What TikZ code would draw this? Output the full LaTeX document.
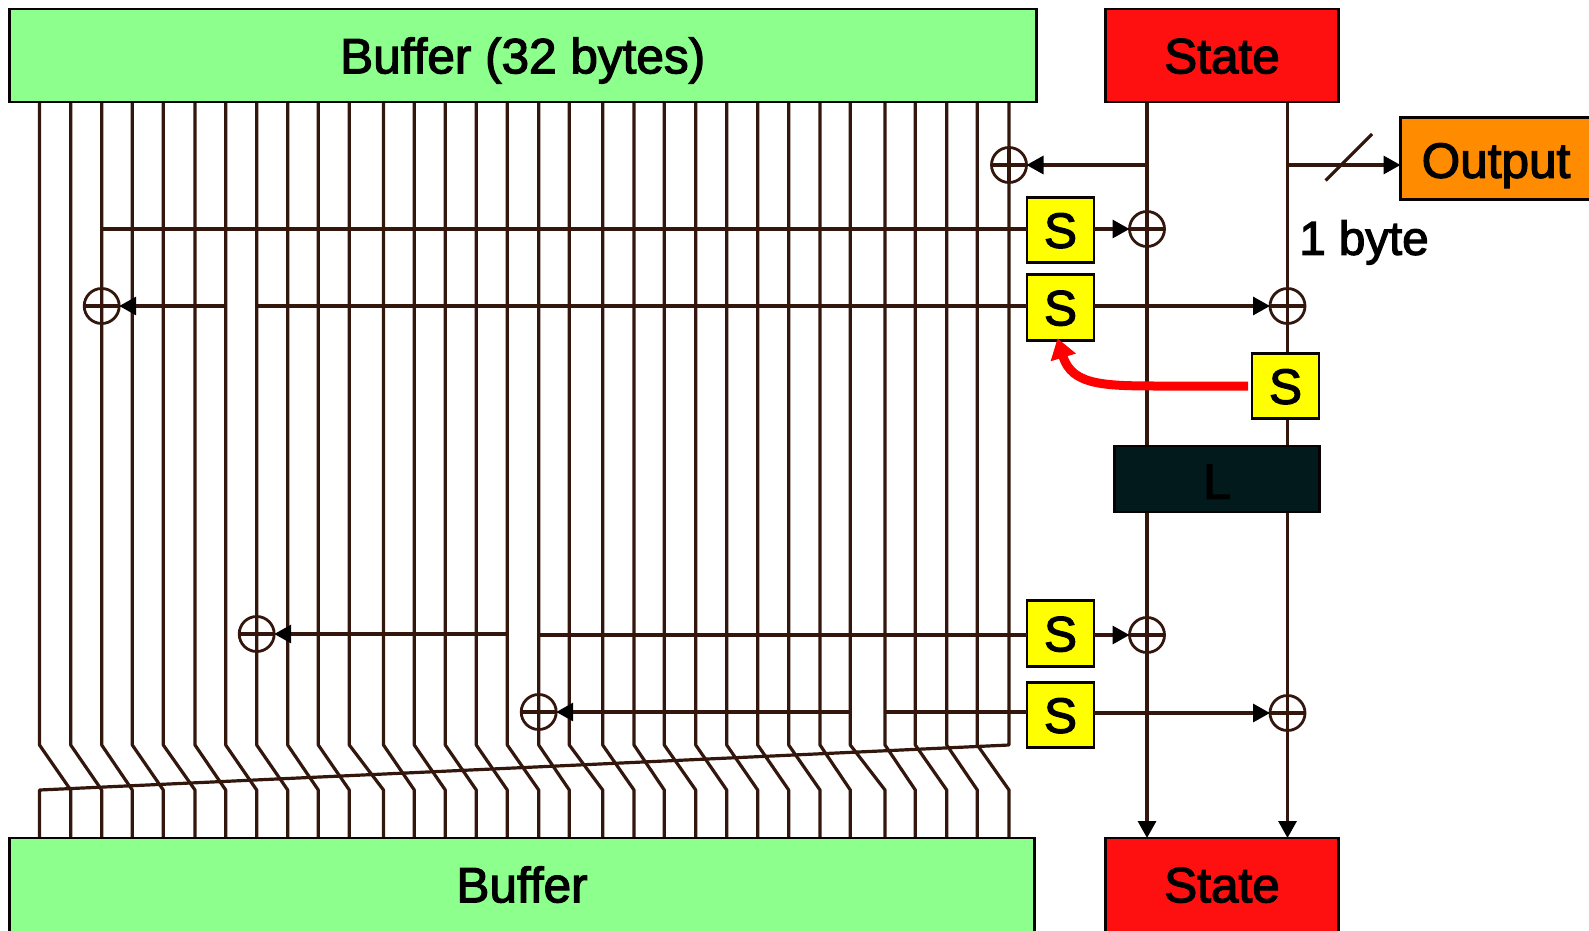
\documentclass[tikz,border=0pt]{standalone}
\usepackage{fontspec}
\usetikzlibrary{arrows.meta,calc}
\newfontfamily\labfont[FakeBold=2.5]{Liberation Sans}
\definecolor{wirec}{HTML}{33170D}
\definecolor{bufg}{HTML}{8CFF8C}
\definecolor{stater}{HTML}{FF1010}
\definecolor{sboxy}{HTML}{FFFF00}
\definecolor{outo}{HTML}{FF8C00}
\definecolor{ldark}{HTML}{021A1C}
\tikzset{
  wire/.style={draw=wirec,line width=3.2pt,line join=round},
  arrowwire/.style={wire,-{Triangle[length=17pt,width=18pt,color=black]}},
  labeltext/.style={font=\labfont\fontsize{49.5}{50}\selectfont,text=black,text height=35.5pt,text depth=0pt,inner sep=0pt,outer sep=0pt},
  block/.style={draw=black!85!wirec,line width=2.8pt,labeltext},
  sbox/.style={block,fill=sboxy,minimum width=67pt,minimum height=65.5pt},
  xorgate/.style={circle,draw=wirec,line width=2.8pt,minimum size=35pt,inner sep=0pt,outer sep=0pt,
    path picture={\draw[wire] (path picture bounding box.west) -- (path picture bounding box.east);
                  \draw[wire] (path picture bounding box.north) -- (path picture bounding box.south);}}
}
\begin{document}
\begin{tikzpicture}[x=1pt,y=-1pt]
\useasboundingbox (0,0) rectangle (1589,930);
\clip (0,0) rectangle (1589,930);
% wire coordinates
\foreach \i/\xx in {1/39.5,2/70.7,3/101.7,4/132.3,5/163.3,6/195,7/225.7,8/256.7,9/287.7,10/318.3,11/349.3,12/383.5,13/414.3,14/445.3,15/476.3,16/507.3,17/538.7,18/569.3,19/602.7,20/634,21/664.3,22/695.7,23/726.7,24/757.7,25/788.7,26/820,27/850.3,28/885,29/915.3,30/946.7,31/977.3,32/1009}{
  \coordinate (w\i) at (\xx,102);
  \coordinate (u\i) at (\xx,745);
  \coordinate (d\i) at (\xx,790);
  \coordinate (b\i) at (\xx,838);
}
% rotation wires
\foreach \i [evaluate=\i as \j using {int(\i+1)}] in {1,...,31}{
  \draw[wire] (w\i) -- (u\i) -- (d\j) -- (b\j);
}
\draw[wire] (w32) -- (u32) -- (d1) -- (b1);
% state wires
\coordinate (st1) at (1147,102);
\coordinate (st2) at (1287.5,102);
\coordinate (sb1) at (1147,838);
\coordinate (sb2) at (1287.5,838);
\draw[arrowwire] (st1) -- (sb1);
\draw[arrowwire] (st2) -- (sb2);
% boxes
\node[block,fill=bufg,minimum width=1027pt,minimum height=93pt] (buftop) at (522.7,55.5) {Buffer (32 bytes)};
\node[block,fill=bufg,minimum width=1025pt,minimum height=100pt] (bufbot) at (521.7,888) {};
\node[labeltext] (bufbotlabel) at (522,884.5) {Buffer};
\node[block,fill=stater,minimum width=233pt,minimum height=93pt] (statetop) at (1222,55.5) {State};
\node[block,fill=stater,minimum width=233pt,minimum height=100pt] (statebot) at (1222,888) {};
\node[labeltext] (statebotlabel) at (1222,884.5) {State};
\node[block,fill=outo,minimum width=200pt,minimum height=82pt] (output) at (1500.5,158.5) {};
\node[labeltext] (outputlabel) at (1496,160) {Output};
\node[sbox] (s1) at (1060.5,230) {S};
\node[sbox] (s2) at (1060.5,307.5) {S};
\node[sbox] (s3) at (1285.5,386) {S};
\node[sbox] (s4) at (1060.5,633.5) {S};
\node[sbox] (s5) at (1060.5,715) {S};
\node[block,fill=ldark,minimum width=205pt,minimum height=66pt] (lbox) at (1217,479) {};
\node[labeltext] (llabel) at (1217,481) {L};
\node[labeltext,font=\labfont\fontsize{47.5}{50}\selectfont] (onebyte) at (1364,237) {1 byte};
% xor gates
\node[xorgate] (x1) at (w32 |- 0,165) {};
\node[xorgate] (x2) at (1147,229) {};
\node[xorgate] (x3) at (w3 |- 0,306) {};
\node[xorgate] (x4) at (st2 |- 0,306) {};
\node[xorgate] (x5) at (w8 |- 0,634) {};
\node[xorgate] (x6) at (1147,635) {};
\node[xorgate] (x7) at (w17 |- 0,712) {};
\node[xorgate] (x8) at (st2 |- 0,713) {};
% connectors
\draw[arrowwire] (st1 |- x1) -- (x1.east);
\draw[arrowwire] (st2 |- x1) -- (output.west |- x1);
\coordinate (sl1) at (1325.5,180.5);
\coordinate (sl2) at (1372,134);
\draw[wire] (sl1) -- (sl2);
\draw[wire] (w3 |- x2) -- (s1.west |- x2);
\draw[arrowwire] (s1.east |- x2) -- (x2.west);
\draw[arrowwire] (w7 |- x3) -- (x3.east);
\draw[wire] (w8 |- x3) -- (s2.west |- x3);
\draw[arrowwire] (s2.east |- x4) -- (x4.west);
\draw[arrowwire] (w16 |- x5) -- (x5.east);
\draw[wire] (w17 |- x6) -- (s4.west |- x6);
\draw[arrowwire] (s4.east |- x6) -- (x6.west);
\draw[arrowwire] (w27 |- x7) -- (x7.east);
\draw[wire] (w28 |- x7) -- (s5.west |- x7);
\draw[arrowwire] (s5.east |- x8) -- (x8.west);
% red arrow
\coordinate (rstart) at ($(s3.west)+(-4,0)$);
\coordinate (rmid) at (1165,386);
\coordinate (rend) at ($(s2.south)+(-3,-2)$);
\draw[draw=red,line width=9pt,-{Triangle[length=20pt,width=25pt]}] (rstart) -- (rmid) .. controls (1105,386) and (1072,386) .. (rend);
\end{tikzpicture}
\end{document}
